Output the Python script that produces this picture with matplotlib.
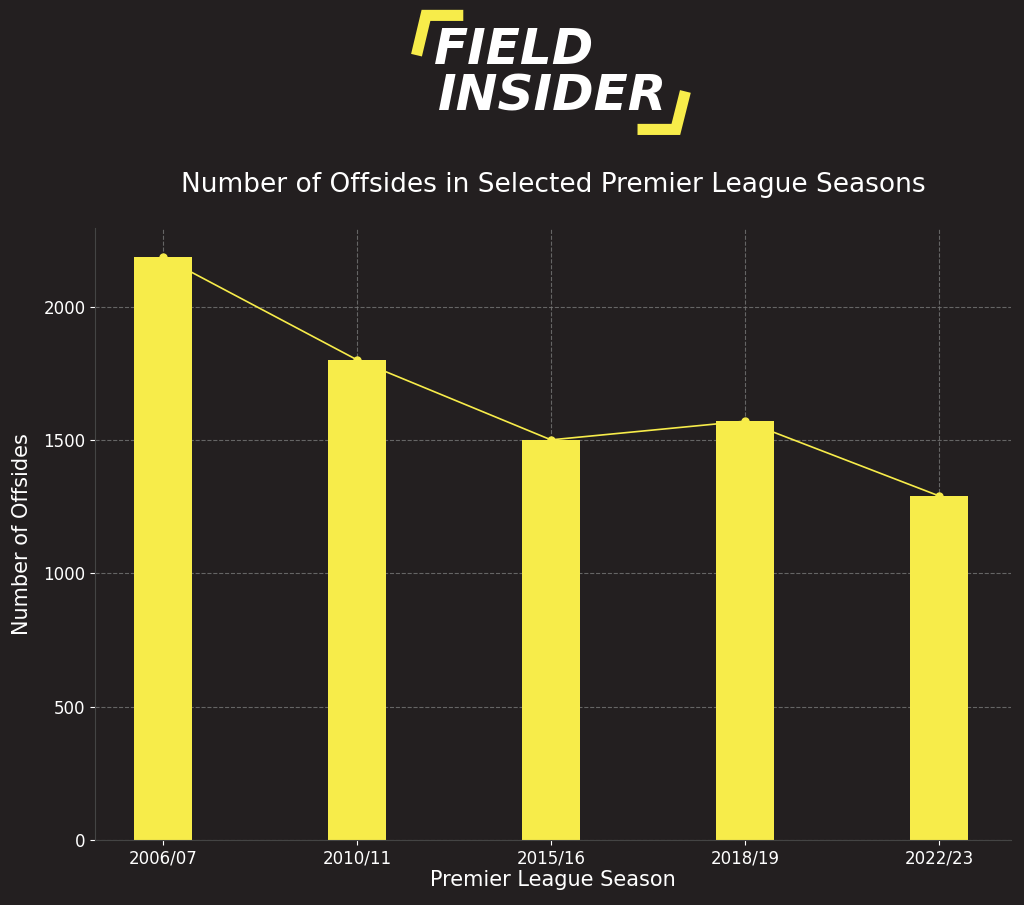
import matplotlib.pyplot as plt

seasons = ["2006/07", "2010/11", "2015/16", "2018/19", "2022/23"]
offsides = [2185, 1800, 1500, 1570, 1290]

bg = "#231f20"
yellow = "#f7ec4a"

fig = plt.figure(figsize=(10.24, 9.05), dpi=100, facecolor=bg)
ax = fig.add_axes([0.093, 0.072, 0.894, 0.676], facecolor=bg)

x = range(len(seasons))
ax.bar(x, offsides, width=0.3, color=yellow, zorder=2)
ax.plot(x, offsides, color=yellow, lw=1.2, marker="o", ms=5, zorder=3)

ax.set_xticks(list(x))
ax.set_xticklabels(seasons)
ax.set_xlim(-0.35, 4.37)
ax.grid(True, color="#777777", ls="--", lw=0.8, alpha=0.8, zorder=0)
ax.set_axisbelow(True)
for s in ["top", "right"]:
    ax.spines[s].set_visible(False)
for s in ["left", "bottom"]:
    ax.spines[s].set_color("#444444")
ax.tick_params(colors="white", labelsize=12)
ax.set_xlabel("Premier League Season", color="white", fontsize=15, labelpad=2)
ax.set_ylabel("Number of Offsides", color="white", fontsize=15, labelpad=8)
ax.set_title("Number of Offsides in Selected Premier League Seasons",
             color="white", fontsize=19, pad=26)

# logo
fig.text(0.502, 0.945, "FIELD", color="white", fontsize=36, fontweight="heavy",
         style="italic", ha="center", va="center")
fig.text(0.54, 0.893, "INSIDER", color="white", fontsize=36, fontweight="heavy",
         style="italic", ha="center", va="center")
fig.lines.append(plt.Line2D([0.408, 0.416, 0.447], [0.945, 0.983, 0.983],
                            color=yellow, lw=8, solid_joinstyle="miter",
                            transform=fig.transFigure))
fig.lines.append(plt.Line2D([0.628, 0.66, 0.668], [0.857, 0.857, 0.893],
                            color=yellow, lw=8, solid_joinstyle="miter",
                            transform=fig.transFigure))

fig.savefig("out.png", dpi=100, facecolor=bg)
